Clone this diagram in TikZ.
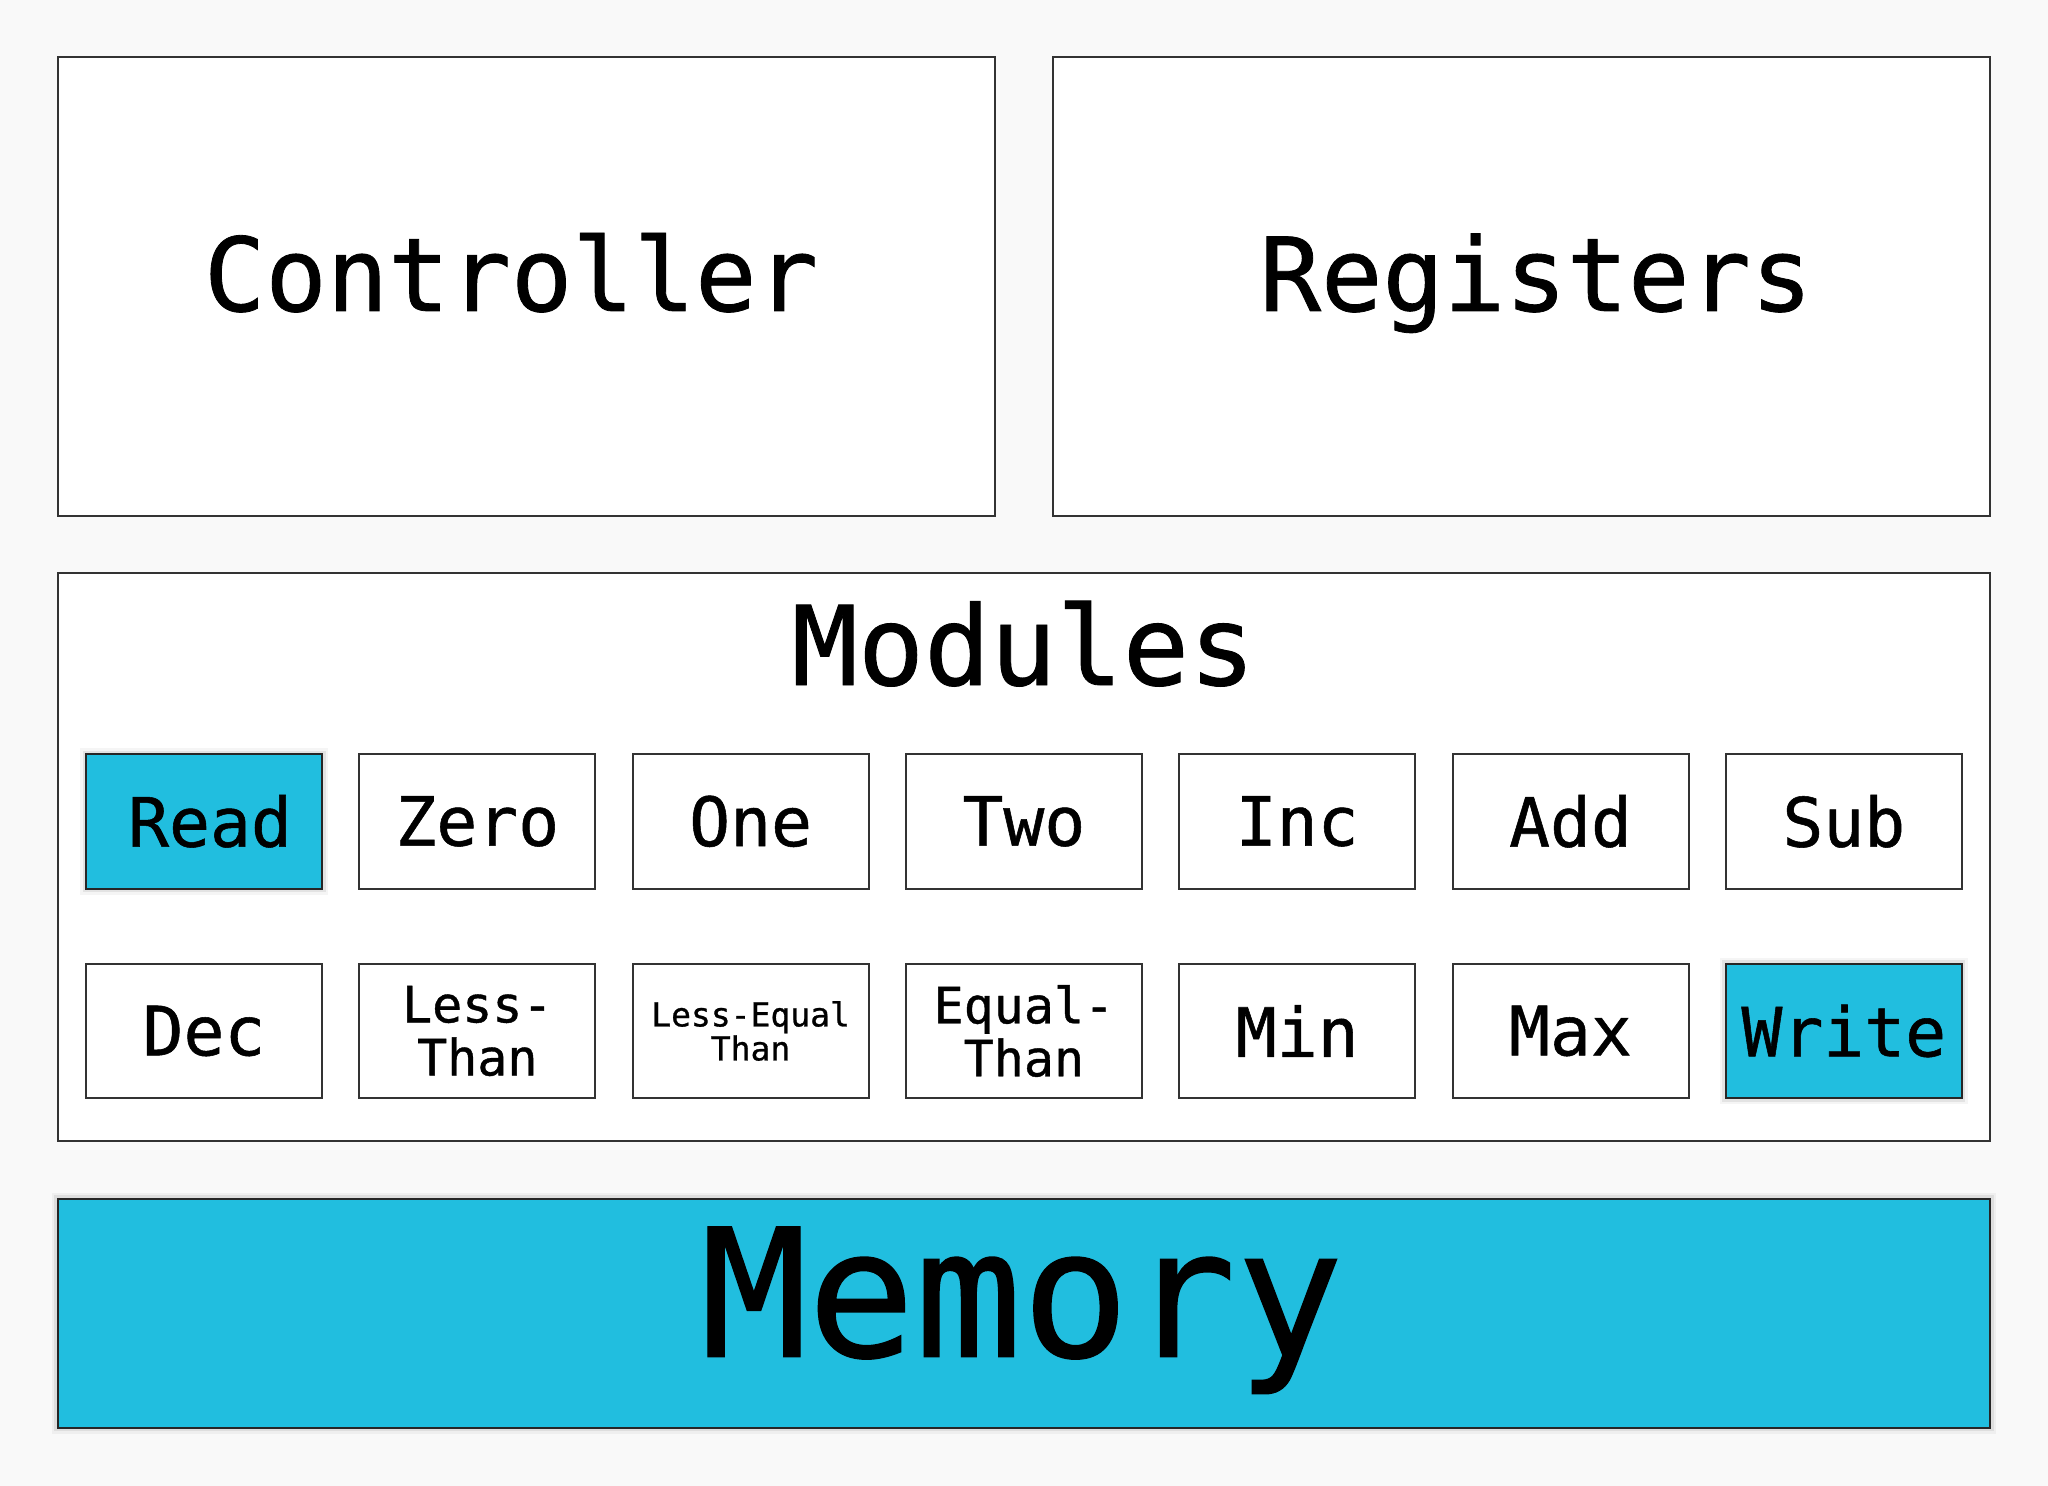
\documentclass[tikz,border=0pt]{standalone}
\usepackage{fontspec}
\setmonofont{DejaVu Sans Mono}[FakeBold=0.8]
\newfontface\monomed{DejaVu Sans Mono}[FakeBold=0.8]
\definecolor{cyanbox}{RGB}{33,190,223}
\definecolor{bgc}{RGB}{249,249,249}
\definecolor{edge}{RGB}{51,51,51}
\begin{document}
\begin{tikzpicture}[x=0.5pt,y=-0.5pt,
  box/.style={draw=edge, line width=1pt, fill=white, inner sep=0pt, outer sep=0pt},
  modbox/.style={box, minimum width=118pt, minimum height=67.25pt, font=\monomed\fontsize{34}{36}\selectfont},
  twoline/.style={align=center, font=\monomed\fontsize{25}{26.5}\selectfont},
  tinyline/.style={align=center, font=\monomed\fontsize{16.5}{17}\selectfont},
  hot/.style={fill=cyanbox, draw=black!85,
    preaction={draw=black, draw opacity=0.04, line width=6pt},
    preaction={draw=black, draw opacity=0.07, line width=3.5pt}},
  bigtext/.style={font=\monomed\fontsize{51}{51}\selectfont, anchor=base, inner sep=0pt},
]
\fill[bgc] (0,0) rectangle (2048,1486);
\useasboundingbox (0,0) rectangle (2048,1486);

% main boxes
\node[box, minimum width=468.75pt, minimum height=229.25pt] (ctrl) at (526.25,286.75) {};
\node[box, minimum width=468.5pt, minimum height=229.25pt] (regs) at (1521.5,286.75) {};
\node[box, minimum width=966.25pt, minimum height=284pt] (mods) at (1023.75,857) {};
\node[box, hot, minimum width=966.25pt, minimum height=114.5pt] (mem) at (1023.75,1313) {};

% titles
\node[bigtext] (ctrltext) at (511,311) {Controller};
\node[bigtext] (regstext) at (1536,311) {Registers};
\node[bigtext, font=\monomed\fontsize{55}{55}\selectfont] (modtext) at (1023.5,685) {Modules};
\node[bigtext, font=\monomed\fontsize{89}{89}\selectfont] (memtext) at (1022,1356.7) {Memory};

% row 1
\node[modbox, hot] (read) at (204,821.3) {\hspace*{6pt}Read};
\node[modbox] (zero) at (477.3,821.3) {Zero};
\node[modbox] (one)  at (750.6,821.3) {One};
\node[modbox] (two)  at (1023.9,821.3) {Two};
\node[modbox] (inc)  at (1297.2,821.3) {Inc};
\node[modbox] (add)  at (1570.5,821.3) {Add};
\node[modbox] (sub)  at (1843.8,821.3) {Sub};

% row 2
\node[modbox] (dec) at (204,1031) {Dec};
\node[modbox, twoline] (lessthan) at (477.3,1031) {Less-\\Than};
\node[modbox, tinyline] (lesseq) at (750.6,1031) {Less-Equal\\Than};
\node[modbox, twoline] (eqthan) at (1023.9,1031) {Equal-\\Than};
\node[modbox] (min) at (1297.2,1031) {Min};
\node[modbox] (max) at (1570.5,1031) {Max};
\node[modbox, hot] (write) at (1843.8,1031) {Write};
\end{tikzpicture}
\end{document}
